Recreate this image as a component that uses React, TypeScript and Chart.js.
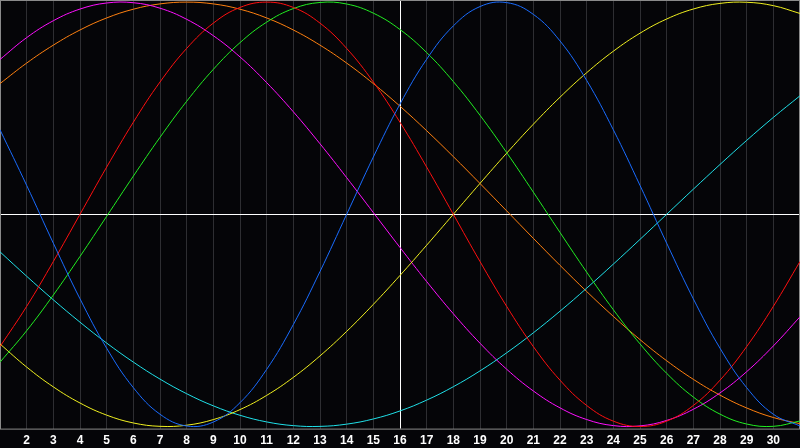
import React, { useEffect, useRef } from "react";
import { Chart, registerables } from "chart.js";

Chart.register(...registerables);

const days = [1,2,3,4,5,6,7,8,9,10,11,12,13,14,15,16,17,18,19,20,21,22,23,24,25,26,27,28,29,30,31];

const blueSeries = [0.3984,0.1362,-0.1362,-0.3984,-0.6311,-0.817,-0.9423,-0.9977,-0.9791,-0.8879,-0.7308,-0.5196,-0.2698,0,0.2698,0.5196,0.7308,0.8879,0.9791,0.9977,0.9423,0.817,0.6311,0.3984,0.1362,-0.1362,-0.3984,-0.6311,-0.817,-0.9423,-0.9977];
const redSeries = [-0.6235,-0.4339,-0.2225,0,0.2225,0.4339,0.6235,0.7818,0.901,0.9749,1,0.9749,0.901,0.7818,0.6235,0.4339,0.2225,0,-0.2225,-0.4339,-0.6235,-0.7818,-0.901,-0.9749,-1,-0.9749,-0.901,-0.7818,-0.6235,-0.4339,-0.2225];
const greenSeries = [-0.697,-0.5486,-0.3805,-0.1986,-0.0095,0.1799,0.3628,0.5326,0.6832,0.809,0.9056,0.9695,0.9984,0.9911,0.948,0.8708,0.7622,0.6256,0.4667,0.2908,0.1045,-0.0856,-0.2726,-0.4497,-0.6107,-0.7495,-0.8613,-0.9418,-0.9884,-0.9993,-0.974];
const yellowSeries = [-0.6111,-0.72,-0.8134,-0.8894,-0.9465,-0.9834,-0.9993,-0.994,-0.9675,-0.9204,-0.8535,-0.7686,-0.6673,-0.5518,-0.4245,-0.2881,-0.1456,0,0.1456,0.2881,0.4245,0.5518,0.6673,0.7686,0.8535,0.9204,0.9675,0.994,0.9993,0.9834,0.9465];
const cyanSeries = [-0.1769,-0.292,-0.4031,-0.5085,-0.6069,-0.6966,-0.7767,-0.8456,-0.9028,-0.9473,-0.9785,-0.9961,-0.9996,-0.989,-0.9646,-0.9267,-0.8757,-0.8126,-0.738,-0.6528,-0.5586,-0.4566,-0.3482,-0.2348,-0.1183,0,0.1183,0.2348,0.3482,0.4566,0.5586];
const magentaSeries = [0.7298,0.8327,0.9124,0.9673,0.9959,0.9972,0.9714,0.919,0.8418,0.7417,0.6206,0.4831,0.3325,0.1728,0.0082,-0.1564,-0.3169,-0.4687,-0.6076,-0.7301,-0.8326,-0.9123,-0.9673,-0.9959,-0.9972,-0.9714,-0.919,-0.8418,-0.7417,-0.6206,-0.4831];
const orangeSeries = [0.616,0.7127,0.7973,0.8687,0.9254,0.9666,0.9916,1,0.9916,0.9666,0.9254,0.8687,0.7973,0.7127,0.616,0.5094,0.3939,0.2718,0.1452,0.0162,-0.1132,-0.2405,-0.3639,-0.4811,-0.5906,-0.6902,-0.7778,-0.8522,-0.9127,-0.9578,-0.9869];

const seriesList = [
  { label: "Physical", data: blueSeries, color: "#1a6cff" },
  { label: "Emotional", data: redSeries, color: "#ff1010" },
  { label: "Intellectual", data: greenSeries, color: "#22ee22" },
  { label: "Aesthetic", data: yellowSeries, color: "#f0f020" },
  { label: "Spiritual", data: cyanSeries, color: "#20e0e8" },
  { label: "Intuitive", data: magentaSeries, color: "#ff10ff" },
  { label: "Awareness", data: orangeSeries, color: "#ff8010" },
];

const todayDay = 16;

export default function App() {
  const ref = useRef<HTMLCanvasElement>(null);

  useEffect(() => {
    document.body.style.margin = "0";
    document.body.style.background = "#050508";
    const canvas = ref.current;
    if (!canvas) return;

    const framePlugin = {
      id: "frame",
      beforeDraw(chart: any) {
        const { ctx } = chart;
        ctx.save();
        ctx.fillStyle = "#050508";
        ctx.fillRect(0, 0, chart.width, chart.height);
        ctx.restore();
      },
      beforeDatasetsDraw(chart: any) {
        const { ctx, chartArea, scales } = chart;
        const y0 = Math.round(scales.y.getPixelForValue(0)) + 0.5;
        ctx.save();
        ctx.strokeStyle = "#ffffff";
        ctx.lineWidth = 1;
        ctx.beginPath();
        ctx.moveTo(chartArea.left, y0);
        ctx.lineTo(chartArea.right, y0);
        ctx.stroke();
        const xt = Math.round(scales.x.getPixelForValue(todayDay)) + 0.5;
        ctx.beginPath();
        ctx.moveTo(xt, chartArea.top);
        ctx.lineTo(xt, chartArea.bottom);
        ctx.stroke();
        ctx.strokeStyle = "#8a8a8a";
        ctx.strokeRect(chartArea.left + 0.5, chartArea.top + 0.5, chartArea.right - chartArea.left - 1, chartArea.bottom - chartArea.top);
        ctx.restore();
      },
    };

    const chart = new Chart(canvas, {
      type: "line",
      data: {
        labels: days,
        datasets: seriesList.map((s) => ({
          label: s.label,
          data: days.map((d, i) => ({ x: d, y: s.data[i] })),
          borderColor: s.color,
          backgroundColor: s.color,
          borderWidth: 1,
          pointRadius: 0,
          pointHoverRadius: 0,
          tension: 0.4,
          fill: false,
        })),
      },
      options: {
        animation: false,
        responsive: false,
        maintainAspectRatio: false,
        layout: { padding: 0, autoPadding: false },
        plugins: { legend: { display: false }, tooltip: { enabled: false } },
        scales: {
          x: {
            type: "linear",
            min: 1,
            max: 31,
            border: { display: false },
            grid: {
              drawTicks: true,
              tickLength: 5,
              tickColor: "rgba(0,0,0,0)",
              color: (c: any) => (c.tick && (c.tick.value === 1 || c.tick.value === 31) ? "rgba(0,0,0,0)" : "#2e2e32"),
              lineWidth: 1,
            },
            ticks: {
              stepSize: 1,
              autoSkip: false,
              maxRotation: 0,
              padding: 0,
              color: "#ffffff",
              font: { family: "'Liberation Sans', Arial, sans-serif", size: 12, weight: "bold" },
              callback: (v: any) => (v === 1 || v === 31 ? "" : String(v)),
            },
          },
          y: {
            display: false,
            min: -1.01,
            max: 1.01,
          },
        },
      },
      plugins: [framePlugin],
    });

    return () => chart.destroy();
  }, []);

  return (
    <div style={{ width: 800, height: 448, background: "#050508" }}>
      <canvas ref={ref} width={800} height={448} style={{ display: "block" }} />
    </div>
  );
}
